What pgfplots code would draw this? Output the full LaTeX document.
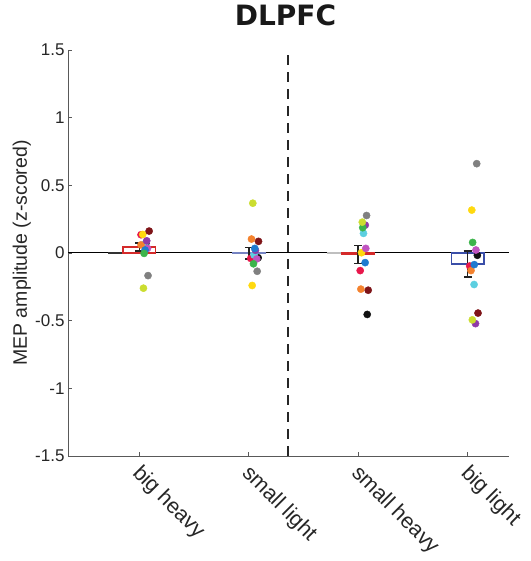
\documentclass[border=0pt]{standalone}
\usepackage{fontspec}
\setmainfont{Liberation Sans}
\newfontfamily\titlefont{DejaVu Sans}
\usepackage{pgfplots}
\pgfplotsset{compat=1.18}
\definecolor{cRed}{HTML}{E8174B}
\definecolor{cYellow}{HTML}{FFD90F}
\definecolor{cDark}{HTML}{7E1418}
\definecolor{cPurple}{HTML}{8E3AA8}
\definecolor{cCyan}{HTML}{5CCFE0}
\definecolor{cOrange}{HTML}{F4822E}
\definecolor{cMagenta}{HTML}{C054C0}
\definecolor{cBlue}{HTML}{1E7AD0}
\definecolor{cGreen}{HTML}{3CB44B}
\definecolor{cGrey}{HTML}{808080}
\definecolor{cLime}{HTML}{CBDD30}
\definecolor{cBlack}{HTML}{111111}
\definecolor{barRed}{HTML}{D42A2A}
\definecolor{barBlue}{HTML}{3A4EA8}
\definecolor{errC}{HTML}{222222}
\pgfplotsset{
  myerr/.style={
    error bars/.cd, y dir=both, y explicit,
    error bar style={draw=errC, line width=1.5pt},
    error mark options={rotate=90, draw=errC, line width=1.5pt, mark size=4pt}}
}
\begin{document}
\begin{tikzpicture}
\useasboundingbox (0,0) rectangle (530pt,561pt);
\begin{axis}[
  at={(68pt,105pt)}, anchor=south west,
  scale only axis, width=441pt, height=406pt,
  xmin=0.349, xmax=4.377, ymin=-1.5, ymax=1.5,
  axis lines=left,
  axis line style={-, draw=black!65, line width=0.7pt},
  tick align=inside, major tick length=4pt,
  tick style={draw=black!65, line width=0.7pt},
  xtick={1,2,3,4},
  xticklabels={big heavy,small light,small heavy,big light},
  ytick={-1.5,-1,-0.5,0,0.5,1,1.5},
  yticklabels={-1.5,-1,-0.5,0,0.5,1,1.5},
  xticklabel style={rotate=-45, anchor=north west, xshift=4pt, yshift=1pt, font=\fontsize{21.5}{26}\selectfont, text=black!85},
  yticklabel style={font=\fontsize{17}{20}\selectfont, text=black!85},
  ylabel={MEP amplitude (z-scored)},
  ylabel style={at={(axis description cs:-0.093,0.5)}, anchor=base, font=\fontsize{19.5}{23}\selectfont, text=black!85},
  title={DLPFC},
  title style={at={(axis description cs:0.5,1)}, anchor=base, yshift=18pt, xshift=-3pt, font=\titlefont\bfseries\fontsize{28}{32}\selectfont, text=black!90},
  clip=false,
]
% zero line and extra segments
\addplot[black, line width=1pt] coordinates {(0.349,0) (4.377,0)};
\addplot[black!80, line width=2pt] coordinates {(0.717,0) (0.845,0)};
\addplot[black!25, line width=1.5pt] coordinates {(2.717,0) (2.855,0)};
% dashed separator
\addplot[black!85, line width=1.8pt, dash pattern=on 10pt off 7pt] coordinates {(2.356,-1.5) (2.356,1.5)};
% bars with error bars
\addplot[ybar, bar width=0.3, bar shift=0pt, draw=barRed, line width=1.6pt, fill=white, myerr]
  coordinates {(1,0.044) +- (0,0.030)};
\addplot[ybar, bar width=0.3, bar shift=0pt, draw=barBlue!70, line width=1.2pt, fill=white, myerr]
  coordinates {(2,-0.002) +- (0,0.044)};
\addplot[ybar, bar width=0.3, bar shift=0pt, draw=barRed, line width=1.6pt, fill=barRed, myerr]
  coordinates {(3,-0.012) +- (0,0.066)};
\addplot[ybar, bar width=0.3, bar shift=0pt, draw=barBlue, line width=1.6pt, fill=white, myerr]
  coordinates {(4,-0.081) +- (0,0.096)};
% individual subjects
\addplot[only marks, mark=*, mark size=3.6pt, mark options={draw=cBlack, fill=cBlack}]
  coordinates {(1.06,0.07) (2.086,-0.035) (3.082,-0.454) (4.088,-0.017)};
\addplot[only marks, mark=*, mark size=3.6pt, mark options={draw=cRed, fill=cRed}]
  coordinates {(1.016,0.135) (2.018,-0.040) (3.018,-0.130) (4.018,-0.096)};
\addplot[only marks, mark=*, mark size=3.6pt, mark options={draw=cYellow, fill=cYellow}]
  coordinates {(1.032,0.137) (2.031,-0.240) (3.030,0.002) (4.037,0.317)};
\addplot[only marks, mark=*, mark size=3.6pt, mark options={draw=cDark, fill=cDark}]
  coordinates {(1.090,0.162) (2.089,0.086) (3.091,-0.275) (4.094,-0.444)};
\addplot[only marks, mark=*, mark size=3.6pt, mark options={draw=cCyan, fill=cCyan}]
  coordinates {(1.050,0.066) (2.049,-0.015) (3.048,0.145) (4.058,-0.233)};
\addplot[only marks, mark=*, mark size=3.6pt, mark options={draw=cOrange, fill=cOrange}]
  coordinates {(1.016,0.060) (2.025,0.103) (3.024,-0.267) (4.030,-0.130)};
\addplot[only marks, mark=*, mark size=3.6pt, mark options={draw=cPurple, fill=cPurple}]
  coordinates {(1.068,0.090) (2.061,0.020) (3.064,0.206) (4.071,-0.522)};
\addplot[only marks, mark=*, mark size=3.6pt, mark options={draw=cMagenta, fill=cMagenta}]
  coordinates {(1.075,0.034) (2.073,-0.044) (3.069,0.034) (4.075,0.022)};
\addplot[only marks, mark=*, mark size=3.6pt, mark options={draw=cBlue, fill=cBlue}]
  coordinates {(1.053,0.022) (2.055,0.034) (3.063,-0.071) (4.060,-0.086)};
\addplot[only marks, mark=*, mark size=3.6pt, mark options={draw=cGreen, fill=cGreen}]
  coordinates {(1.044,-0.003) (2.043,-0.080) (3.041,0.187) (4.045,0.078)};
\addplot[only marks, mark=*, mark size=3.6pt, mark options={draw=cGrey, fill=cGrey}]
  coordinates {(1.080,-0.167) (2.077,-0.135) (3.076,0.277) (4.082,0.660)};
\addplot[only marks, mark=*, mark size=3.6pt, mark options={draw=cLime, fill=cLime}]
  coordinates {(1.038,-0.260) (2.037,0.368) (3.037,0.228) (4.042,-0.494)};
\end{axis}
\end{tikzpicture}
\end{document}
